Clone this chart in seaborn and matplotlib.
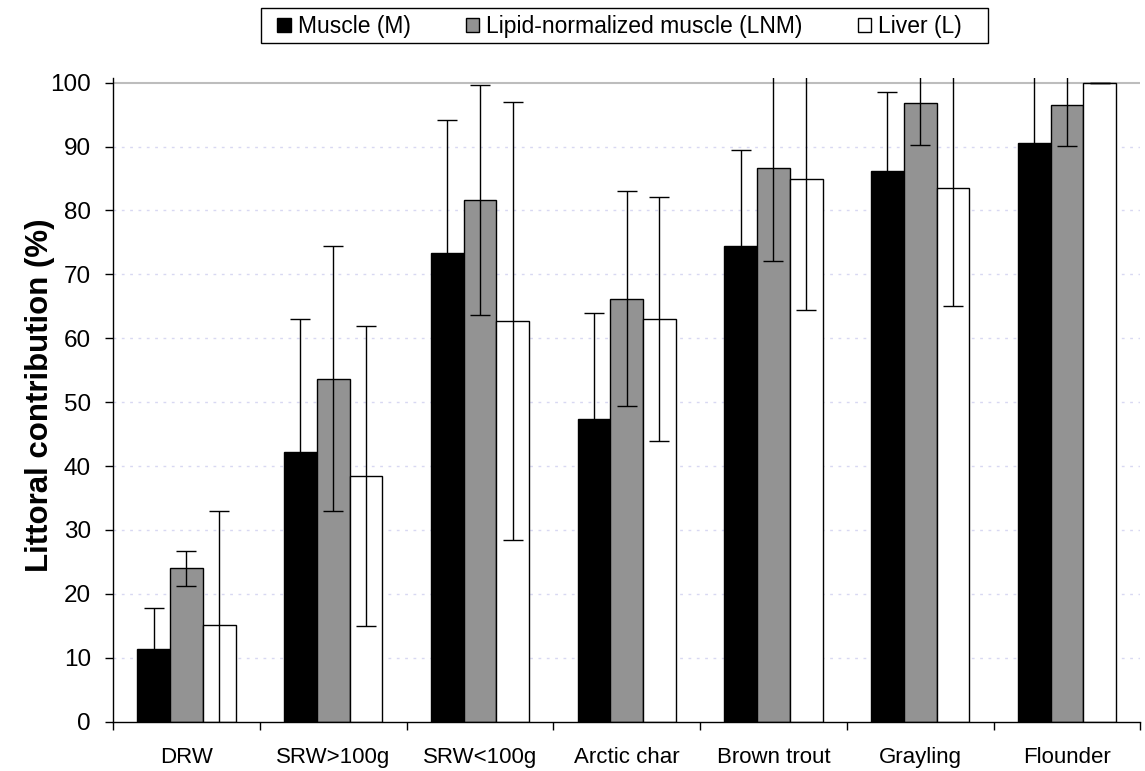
import matplotlib
matplotlib.use("Agg")
import matplotlib.pyplot as plt
import seaborn as sns
import pandas as pd
import numpy as np
from matplotlib.patches import Patch, Rectangle

categories = ["DRW", "SRW>100g", "SRW<100g", "Arctic char", "Brown trout", "Grayling", "Flounder"]
series = ["Muscle (M)", "Lipid-normalized muscle (LNM)", "Liver (L)"]
muscle = [11.3, 42.2, 73.4, 47.3, 74.5, 86.1, 90.5]
muscle_err = [6.5, 20.8, 20.8, 16.6, 15.0, 12.4, 11.5]
lnm = [24.0, 53.7, 81.7, 66.2, 86.7, 96.8, 96.5]
lnm_err = [2.75, 20.8, 18.0, 16.8, 14.6, 6.5, 6.4]
liver = [15.2, 38.4, 62.7, 63.0, 85.0, 83.5, 100.0]
liver_err = [17.7, 23.5, 34.2, 19.1, 20.6, 18.5, 0.0]
yticks = list(range(0, 101, 10))

colors = ["#000000", "#939393", "#ffffff"]

values = [muscle, lnm, liver]
errs = [muscle_err, lnm_err, liver_err]
rows = []
for s, v in zip(series, values):
    for c, val in zip(categories, v):
        rows.append({"cat": c, "series": s, "val": val})
df = pd.DataFrame(rows)

sns.set_theme(style="white")
plt.rcParams['font.family'] = ['Liberation Sans', 'DejaVu Sans']
plt.rcParams['text.color'] = 'black'
plt.rcParams['xtick.color'] = 'black'
plt.rcParams['ytick.color'] = 'black'
plt.rcParams['axes.labelcolor'] = 'black'

fig = plt.figure(figsize=(11.45, 7.71), dpi=100)
ax = fig.add_axes([0.0987, 0.064, 0.8973, 0.8354])

sns.barplot(data=df, x="cat", y="val", hue="series", order=categories, hue_order=series,
            palette=colors, width=0.67, edgecolor="black", linewidth=1.0,
            errorbar=None, saturation=1, legend=False, ax=ax)

# error bars
for cont, e in zip(ax.containers, errs):
    xs = [p.get_x() + p.get_width() / 2 for p in cont]
    ys = [p.get_height() for p in cont]
    ax.errorbar(xs, ys, yerr=e, fmt="none", ecolor="black", elinewidth=1.0,
                capsize=7, capthick=1.0, zorder=5)

ax.set_xlim(-0.5, len(categories) - 0.5)
ax.set_ylim(0, 100.8)
ax.set_yticks(yticks)
ax.set_yticklabels([str(t) for t in yticks], fontsize=17.5)

# gridlines
for t in yticks[1:-1]:
    ax.axhline(t, color="#d8d8f2", lw=1.0, ls=(0, (2, 4)), zorder=0)
ax.axhline(100, color="#bdbdbd", lw=1.5, zorder=0)

ax.set_xticks(range(len(categories)))
ax.set_xticklabels(categories, fontsize=16)
ax.tick_params(axis="x", which="major", length=0, pad=18)
ax.set_xticks(np.arange(-0.5, len(categories), 1.0), minor=True)
ax.tick_params(axis="x", which="minor", length=6, width=1, color="black", direction="out", bottom=True)
ax.tick_params(axis="y", length=6, width=1, color="black", direction="out", left=True, pad=10)

for side in ["top", "right"]:
    ax.spines[side].set_visible(False)
for side in ["left", "bottom"]:
    ax.spines[side].set_color("black")
    ax.spines[side].set_linewidth(1.0)

ax.set_xlabel("")
ax.set_ylabel("Littoral contribution (%)", fontsize=22.5, fontweight="bold")
ax.yaxis.set_label_coords(-0.056, 0.507)

# legend (frame drawn separately to match the reference box)
handles = [Patch(facecolor=c, edgecolor="black", linewidth=1.0) for c in colors]
leg = fig.legend(handles, series, loc="center left", bbox_to_anchor=(277 / 1145, 1 - 26.5 / 771),
                 ncol=3, frameon=False, fontsize=16.5,
                 handlelength=0.6, handleheight=0.6, handletextpad=0.3, columnspacing=2.4,
                 borderpad=0.0, borderaxespad=0.0)
fig.patches.append(Rectangle((261 / 1145, 1 - 42.5 / 771), (988 - 261) / 1145, 35 / 771,
                             transform=fig.transFigure, fill=False, edgecolor="black", lw=1.0))

fig.savefig("out.png", dpi=100, facecolor="white")
